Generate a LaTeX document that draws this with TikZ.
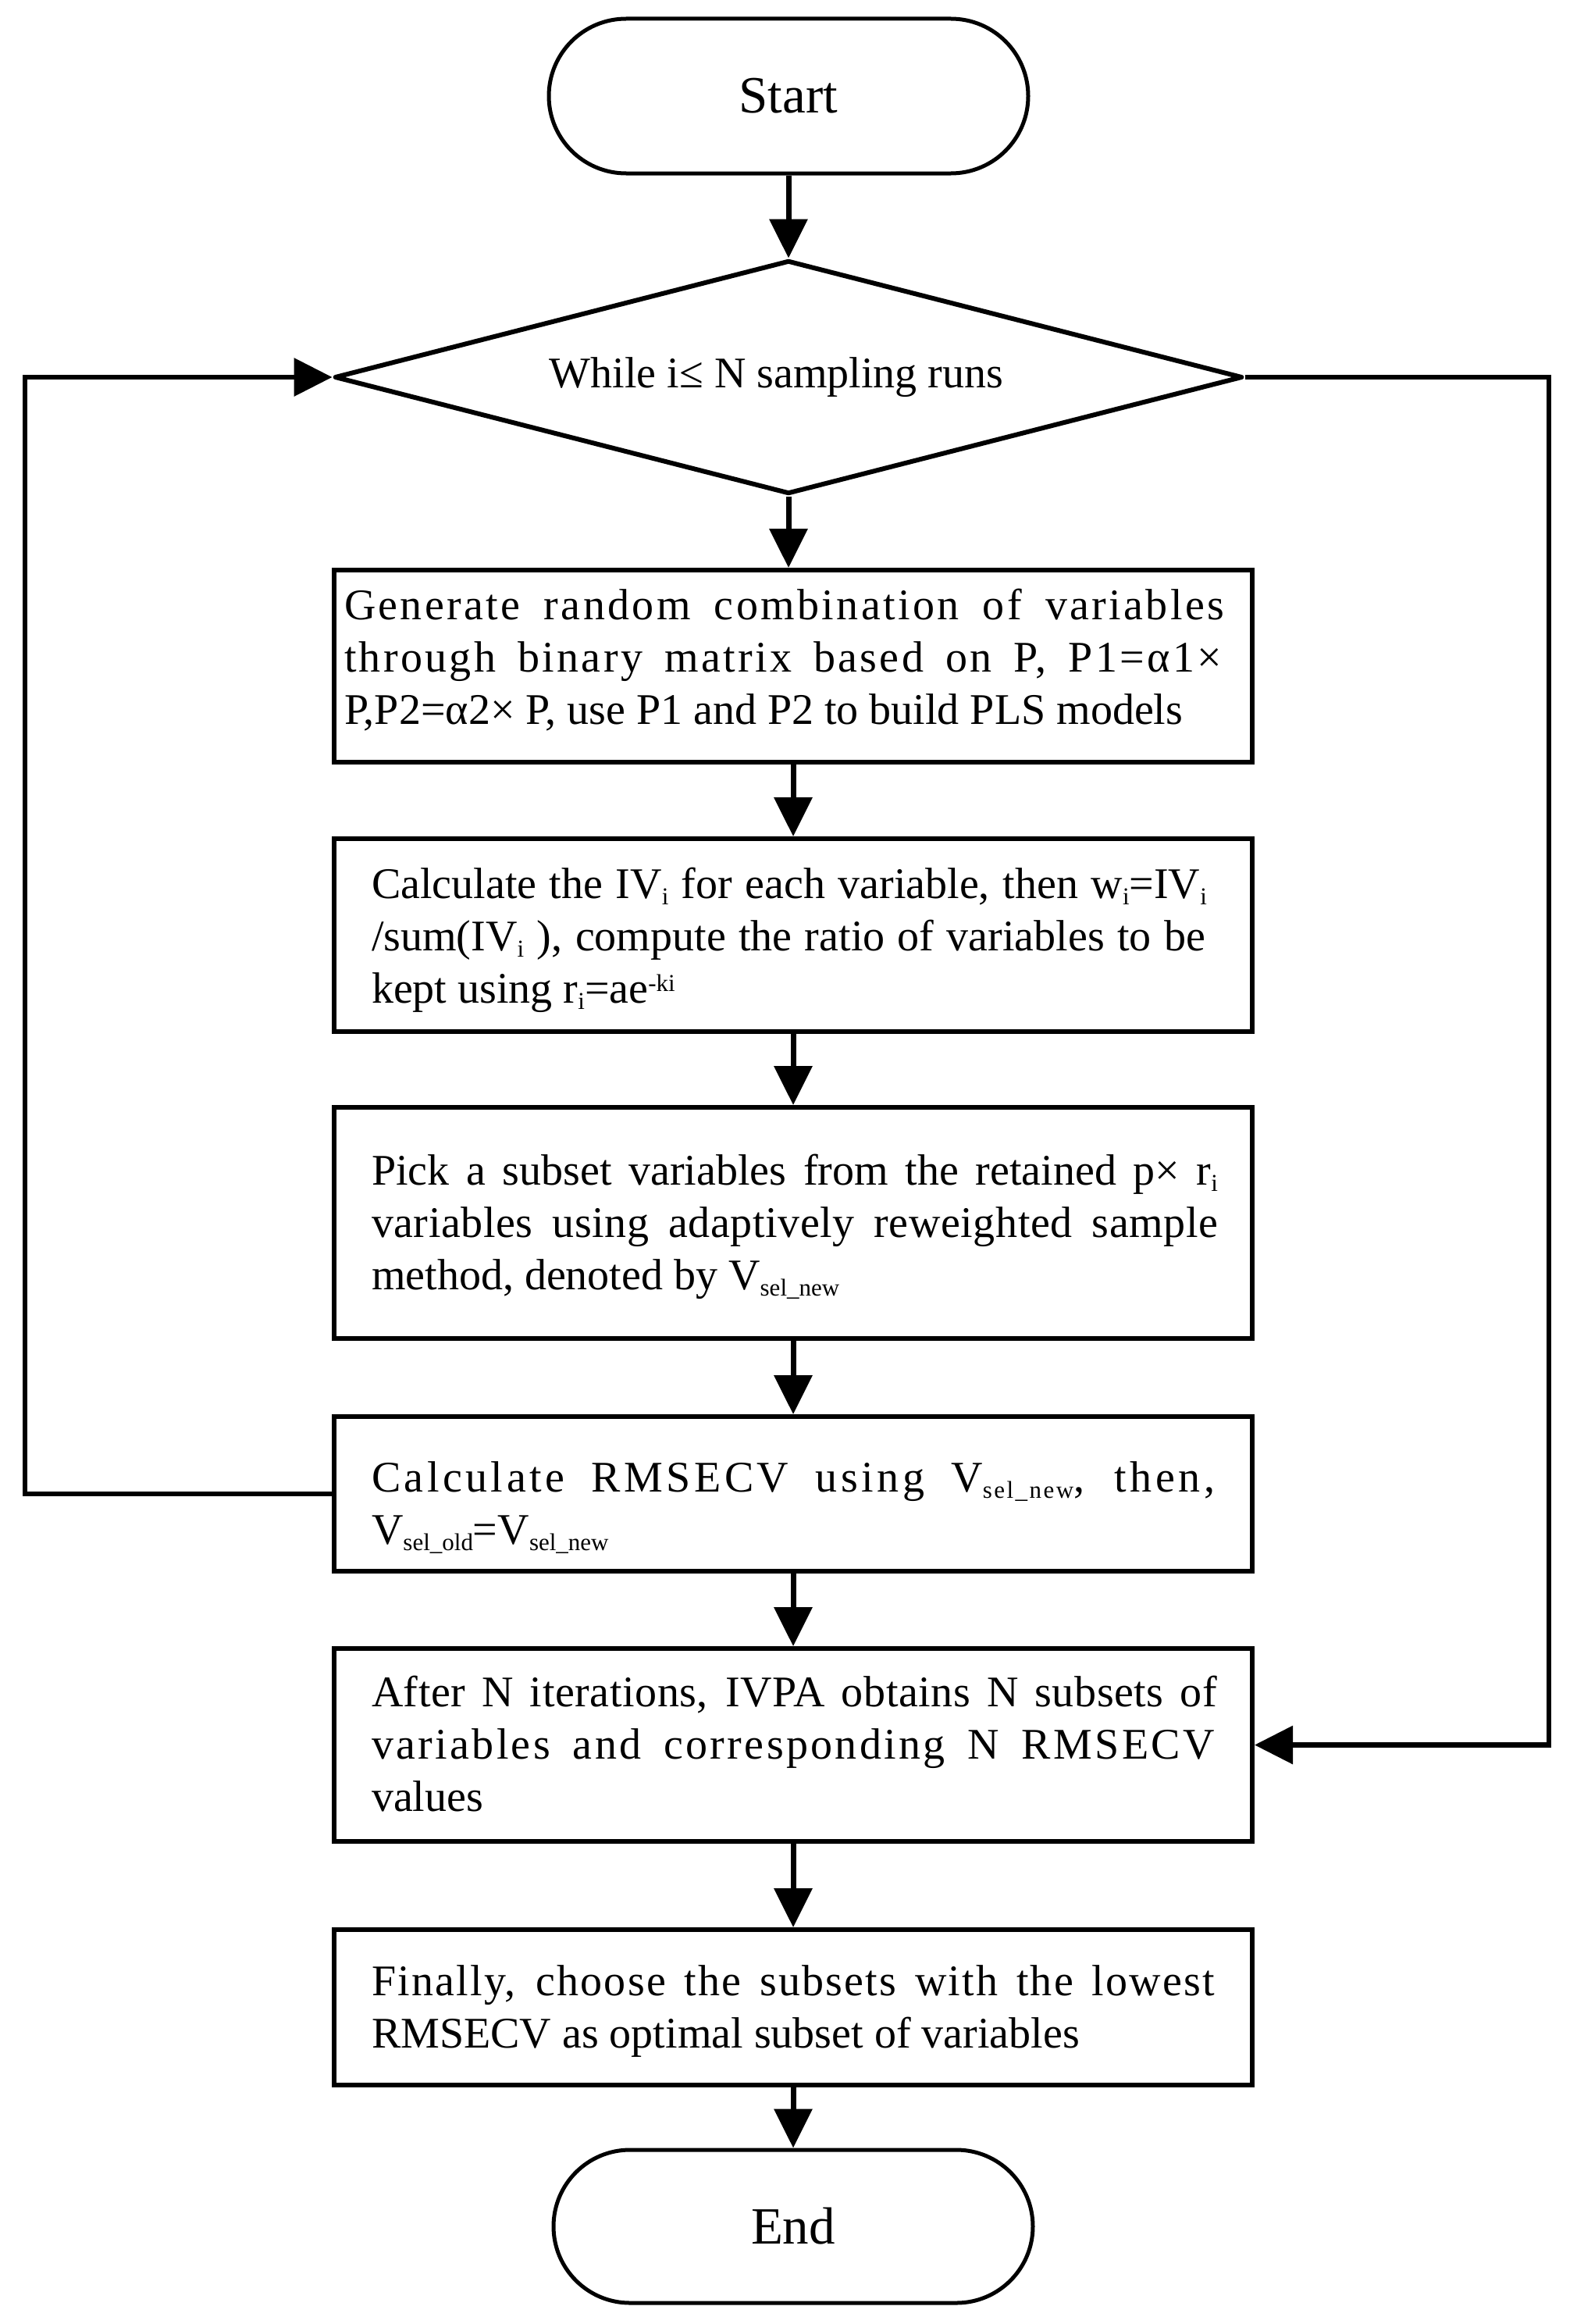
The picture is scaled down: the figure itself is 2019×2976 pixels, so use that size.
\documentclass[tikz,border=0pt]{standalone}
\usepackage{fontspec}
\setmainfont{Liberation Serif}
\usetikzlibrary{arrows.meta,shapes.geometric}
\newdimen\linew
\newcommand\LN[1]{\hbox to \linew{#1\hfil}}
\newcommand\JL[3]{\hbox to \linew{\hbox to #1{\addfontfeature{LetterSpace=#2}#3}\hfil}}
\newcommand\sbs[1]{\raisebox{-8pt}{\fontsize{31}{31}\selectfont #1}}
\newcommand\sps[1]{\raisebox{15pt}{\fontsize{31}{31}\selectfont #1}}
\newcommand\txtblock[2]{{\linew=#1\relax\lineskiplimit=-1000pt\relax\vtop{#2}}}
\tikzset{
  bodyfont/.style={font=\fontsize{56}{67}\selectfont},
  stepbox/.style={draw, line width=6pt, rectangle, inner ysep=0pt, bodyfont},
  term/.style={draw, line width=5pt, rectangle, minimum width=614pt, inner sep=0pt,
    font=\fontsize{67}{80}\selectfont},
  conn/.style={line width=7pt, -{Triangle[length=50pt,width=48pt]}},
  loopconn/.style={line width=6.5pt, -{Triangle[length=49pt,width=48pt]}},
}
\begin{document}
\begin{tikzpicture}[x=1pt,y=-1pt]
\useasboundingbox (0,0) rectangle (2019,2976);

\node[term, rounded corners=99pt, minimum height=198pt] (st) at (1010,123) {Start};

\node[diamond, draw, line width=6pt, line join=round, aspect=3.89, minimum width=1163pt, minimum height=299pt,
  inner sep=0pt, bodyfont] (dia) at (1010,483) {While i≤ N sampling runs\hspace*{31pt}};

\node[stepbox, text height=63pt, text depth=183pt, inner xsep=13pt] (b1) at (1016,853)
 {\txtblock{1150pt}{%
  \JL{1127pt}{6}{Generate random combination of variables}%
  \JL{1124pt}{6}{through binary matrix based on P, P1=α1×}%
  \LN{P,P2=α2× P, use P1 and P2 to build PLS models}}};

\node[stepbox, text height=76pt, text depth=171pt, inner xsep=48pt] (b2) at (1016,1197.5)
 {\txtblock{1080pt}{%
  \JL{1070pt}{0}{Calculate the IV\sbs{i} for each variable, then w\sbs{i}=IV\sbs{i}}%
  \JL{1068pt}{0}{/sum(IV\sbs{i} ), compute the ratio of variables to be}%
  \LN{kept using r\sbs{i}=ae\sps{-ki}}}};

\node[stepbox, text height=99pt, text depth=197pt, inner xsep=48pt] (b3) at (1016,1566)
 {\txtblock{1080pt}{%
  \JL{1084pt}{0}{Pick a subset variables from the retained p× r\sbs{i}}%
  \JL{1084pt}{1}{variables using adaptively reweighted sample}%
  \LN{method, denoted by V\sbs{sel\_new}}}};

\node[stepbox, text height=96pt, text depth=102pt, inner xsep=48pt] (b4) at (1016,1913)
 {\txtblock{1080pt}{%
  \JL{1080pt}{8}{Calculate RMSECV using V\sbs{sel\_new}, then,}%
  \LN{V\sbs{sel\_old}=V\sbs{sel\_new}}}};

\node[stepbox, text height=74pt, text depth=173pt, inner xsep=48pt] (b5) at (1016,2234.5)
 {\txtblock{1080pt}{%
  \JL{1083pt}{1}{After N iterations, IVPA obtains N subsets of}%
  \JL{1080pt}{6}{variables and corresponding N RMSECV}%
  \LN{values}}};

\node[stepbox, text height=84pt, text depth=115pt, inner xsep=48pt] (b6) at (1016,2570.5)
 {\txtblock{1080pt}{%
  \JL{1080pt}{4}{Finally, choose the subsets with the lowest}%
  \LN{RMSECV as optimal subset of variables}}};

\node[term, rounded corners=98pt, minimum height=196pt] (en) at (1016,2851) {End};

\coordinate (lx) at (32,0);
\coordinate (rx) at (1984,0);

\draw[conn] (st.south) -- (dia.north);
\draw[conn] (dia.south) -- (dia.south |- b1.north);
\draw[conn] (b1.south) -- (b2.north);
\draw[conn] (b2.south) -- (b3.north);
\draw[conn] (b3.south) -- (b4.north);
\draw[conn] (b4.south) -- (b5.north);
\draw[conn] (b5.south) -- (b6.north);
\draw[conn] (b6.south) -- (en.north);

\draw[loopconn] (b4.west) -- (b4.west -| lx) |- (dia.west);
\draw[loopconn] (dia.east) -| (rx |- b5.east) -- (b5.east);
\end{tikzpicture}
\end{document}
